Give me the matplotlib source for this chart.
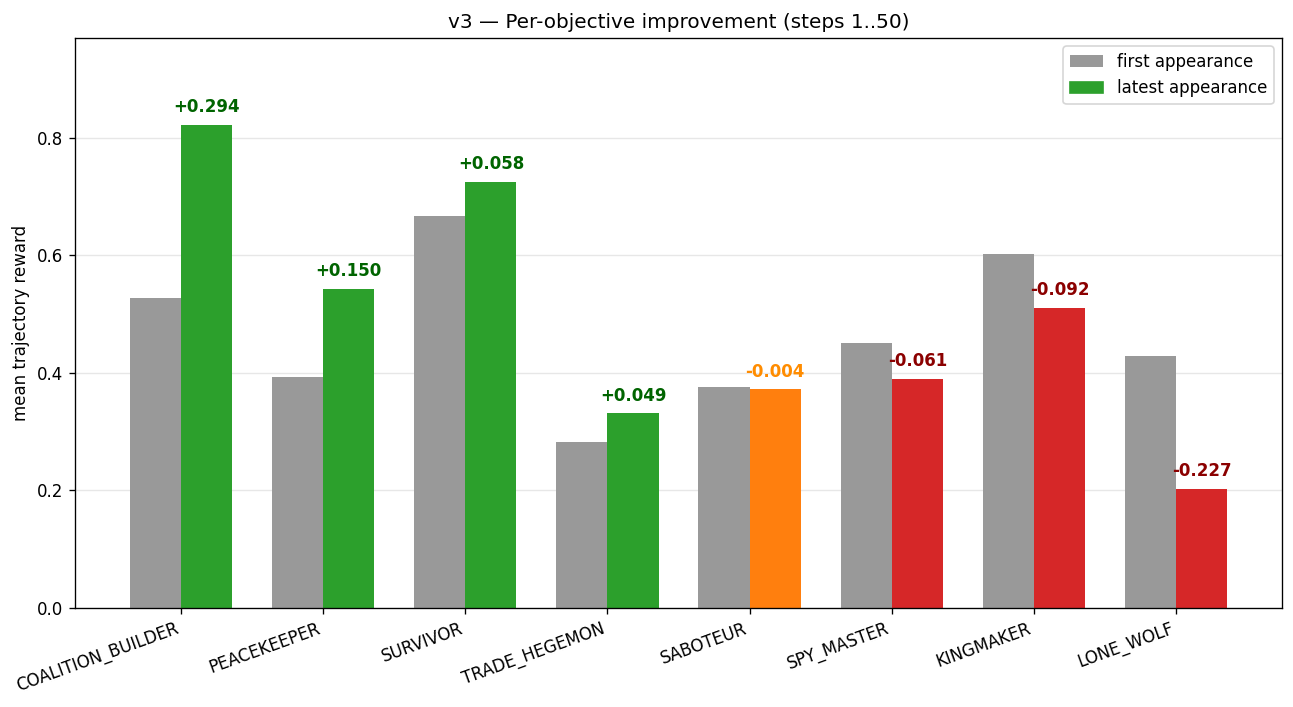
import numpy as np
import matplotlib
matplotlib.use("Agg")
import matplotlib.pyplot as plt

objectives = ["COALITION_BUILDER", "PEACEKEEPER", "SURVIVOR", "TRADE_HEGEMON",
              "SABOTEUR", "SPY_MASTER", "KINGMAKER", "LONE_WOLF"]
first_reward = [0.528, 0.393, 0.667, 0.282, 0.376, 0.451, 0.602, 0.429]
latest_reward = [0.822, 0.543, 0.725, 0.331, 0.372, 0.390, 0.510, 0.202]


def _colours(delta):
    if delta > 0.01:
        return "#2ca02c", "darkgreen"
    if delta < -0.01:
        return "#d62728", "darkred"
    return "#ff7f0e", "darkorange"


x = np.arange(len(objectives))
w = 0.36
deltas = [b - a for a, b in zip(first_reward, latest_reward)]

fig, ax = plt.subplots(figsize=(1293 / 120, 707 / 120), dpi=120)
ax.bar(x - w / 2, first_reward, w, color="#999999", label="first appearance")
bar_cols = [_colours(d)[0] for d in deltas]
ax.bar(x + w / 2, latest_reward, w, color=bar_cols, label="latest appearance")

for xi, val, d in zip(x, latest_reward, deltas):
    ax.text(xi + w / 2, val + 0.015, f"{d:+.3f}", ha="center", va="bottom",
            fontsize=10, fontweight="bold", color=_colours(d)[1])

ax.set_xticks(x)
ax.set_xticklabels(objectives, rotation=20, ha="right")
ax.set_ylabel("mean trajectory reward")
ax.set_title("v3 — Per-objective improvement (steps 1..50)")
ax.set_ylim(0, max(latest_reward + first_reward) * 1.18)
ax.grid(True, axis="y", alpha=0.3)
ax.set_axisbelow(True)
leg = ax.legend(loc="upper right")
leg.legend_handles[1].set_color("#2ca02c")

fig.subplots_adjust(left=75 / 1293, right=1282 / 1293, top=1 - 38 / 707, bottom=1 - 608 / 707)
plt.savefig("out.png", dpi=120)
